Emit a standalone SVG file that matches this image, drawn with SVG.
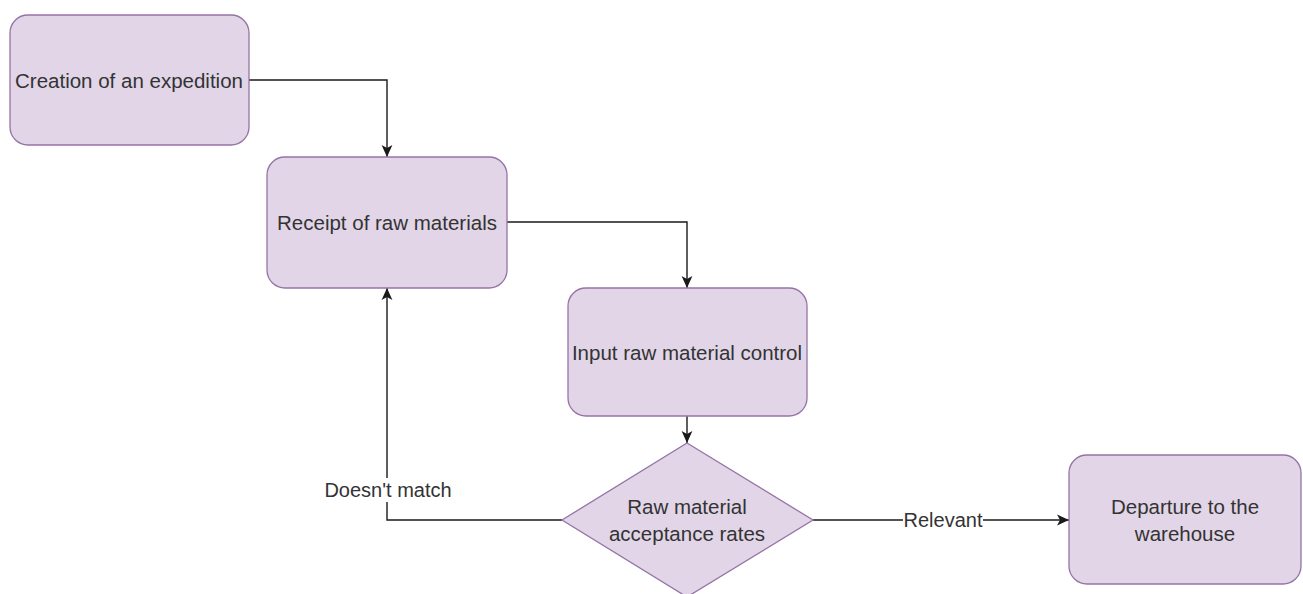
<svg xmlns="http://www.w3.org/2000/svg" width="1303" height="594" viewBox="0 0 1303 594">
<style>
.node{fill:#e1d5e7;stroke:#9673a6;stroke-width:1.3}
.lbl{font-family:"Liberation Sans",Arial,sans-serif;font-size:20.5px;fill:#333333;text-anchor:middle;dominant-baseline:central}
.edge{fill:none;stroke:#1a1a1a;stroke-width:1.4}
.elbl{font-family:"Liberation Sans",Arial,sans-serif;font-size:20px;fill:#333333;text-anchor:middle;dominant-baseline:central}
</style>
<defs>
<marker id="arr" viewBox="0 0 10 10" refX="10" refY="5" markerWidth="12" markerHeight="12" markerUnits="userSpaceOnUse" orient="auto">
<path d="M0,0.5 L10,5 L0,9.5 L2.5,5 Z" fill="#1a1a1a"/>
</marker>
</defs>
<rect width="1303" height="594" fill="#ffffff"/>
<g id="connectors">
<path class="edge" d="M249,80 H387 V157" marker-end="url(#arr)"/>
<path class="edge" d="M507,222 H687 V288" marker-end="url(#arr)"/>
<path class="edge" d="M687,416 V443" marker-end="url(#arr)"/>
<path class="edge" d="M562,520 H387 V288" marker-end="url(#arr)"/>
<path class="edge" d="M813,520 H1069" marker-end="url(#arr)"/>
<g id="label-doesnt-match">
<rect x="322" y="478" width="132" height="24" fill="#ffffff"/>
<text class="elbl" x="388" y="490">Doesn't match</text>
</g>
<g id="label-relevant">
<rect x="903" y="508" width="80" height="24" fill="#ffffff"/>
<text class="elbl" x="943" y="520">Relevant</text>
</g>
</g>
<g id="node-creation">
<rect class="node" x="10" y="15" width="239" height="130" rx="18"/>
<text class="lbl" x="129" y="80">Creation of an expedition</text>
</g>
<g id="node-receipt">
<rect class="node" x="267" y="157" width="240" height="131" rx="18"/>
<text class="lbl" x="387" y="222">Receipt of raw materials</text>
</g>
<g id="node-control">
<rect class="node" x="568" y="288" width="239" height="128" rx="18"/>
<text class="lbl" x="687" y="352">Input raw material control</text>
</g>
<g id="node-decision">
<polygon class="node" points="687,443 813,520 687,597 562,520"/>
<text class="lbl" x="687" y="506">Raw material</text>
<text class="lbl" x="687" y="533">acceptance rates</text>
</g>
<g id="node-departure">
<rect class="node" x="1069" y="455" width="232" height="129" rx="18"/>
<text class="lbl" x="1185" y="506">Departure to the</text>
<text class="lbl" x="1185" y="533">warehouse</text>
</g>
</svg>
